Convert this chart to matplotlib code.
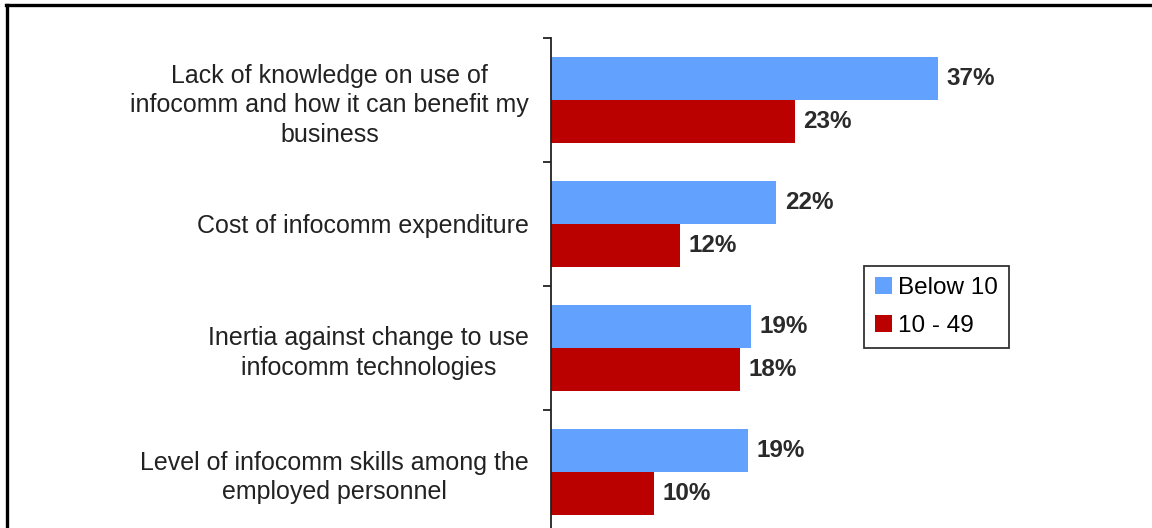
import numpy as np
import matplotlib
matplotlib.use("Agg")
import matplotlib.pyplot as plt
from matplotlib.lines import Line2D

plt.rcParams['font.family'] = ['Liberation Sans', 'DejaVu Sans']

categories = [
    "Lack of knowledge on use of\ninfocomm and how it can benefit my\nbusiness",
    "Cost of infocomm expenditure",
    "Inertia against change to use\ninfocomm technologies",
    "Level of infocomm skills among the\nemployed personnel",
]
below10 = [37.1, 21.6, 19.2, 18.9]
mid10_49 = [23.4, 12.4, 18.1, 9.9]
below10_labels = ["37%", "22%", "19%", "19%"]
mid10_49_labels = ["23%", "12%", "18%", "10%"]
series_names = ["Below 10", "10 - 49"]

W, H = 1152, 528
fig = plt.figure(figsize=(W / 100, H / 100), dpi=100)

# axes: left edge at x=551px, top at y=38px, 124px per category, runs past the bottom
left, top, step = 551, 38, 124
span = 4.2
ax_h = step * span
ax = fig.add_axes([left / W, (H - top - ax_h) / H, 574 / W, ax_h / H])

y = np.arange(len(categories))
h = 0.35
b1 = ax.barh(y - h / 2, below10, height=h, color="#63a1ff", label=series_names[0])
b2 = ax.barh(y + h / 2, mid10_49, height=h, color="#bb0000", label=series_names[1])

ax.bar_label(b1, labels=below10_labels, padding=6, fontsize=17.5, fontweight="bold",
             color="#2a2a2a")
ax.bar_label(b2, labels=mid10_49_labels, padding=6, fontsize=17.5, fontweight="bold",
             color="#2a2a2a")

ax.set_xlim(0, 55)
ax.set_ylim(-0.5 + span, -0.5)

for s in ["top", "right", "bottom"]:
    ax.spines[s].set_visible(False)
ax.spines["left"].set_linewidth(1.3)
ax.spines["left"].set_color("#222222")
ax.set_xticks([])

ax.set_yticks(y)
ax.set_yticklabels(categories, fontsize=18, multialignment="center", color="#222222",
                   linespacing=1.3)
ax.set_yticks(np.arange(-0.5, len(categories), 1.0), minor=True)
ax.tick_params(axis="y", which="major", length=0, pad=16)
ax.tick_params(axis="y", which="minor", length=6, width=1.3, color="#222222", direction="out")

leg = ax.legend(loc="upper left", bbox_to_anchor=(864 / W, (H - 266) / H),
                bbox_transform=fig.transFigure, fontsize=17.5, frameon=True,
                fancybox=False, edgecolor="black", handlelength=0.7, handleheight=0.7,
                handletextpad=0.25, borderpad=0.45, labelspacing=0.65, borderaxespad=0)
leg.get_frame().set_linewidth(1.3)

# outer frame (only the top and left edges are in view)
fig.add_artist(Line2D([6.5 / W, 6.5 / W], [0, (H - 4.5) / H], color="black", lw=2.4,
                      transform=fig.transFigure))
fig.add_artist(Line2D([5.5 / W, 1], [(H - 4.5) / H, (H - 4.5) / H], color="black", lw=2.4,
                      transform=fig.transFigure))

fig.savefig("out.png", dpi=100)
